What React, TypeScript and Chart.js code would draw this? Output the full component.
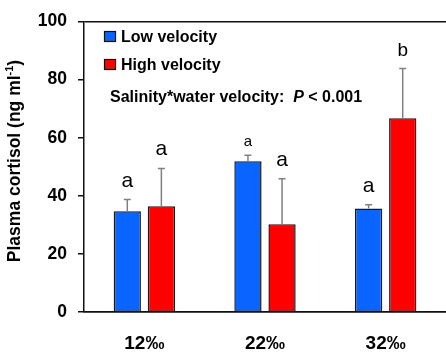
import React, { useEffect, useRef } from "react";
import { Chart, registerables } from "chart.js";

Chart.register(...registerables);

const categories = ["12‰", "22‰", "32‰"];
const seriesNames = ["Low velocity", "High velocity"];
const lowVelocity = [34.7, 51.9, 35.6];
const highVelocity = [36.4, 30.2, 66.7];
const lowError = [4.0, 2.1, 1.3];
const highError = [13.0, 15.7, 17.1];
const lowLetters = ["a", "a", "a"];
const highLetters = ["a", "a", "b"];
const yTicks = [0, 20, 40, 60, 80, 100];
const annotationText = "Salinity*water velocity:";
const pText = "P";
const pRest = " < 0.001";

const FONT = "'Liberation Sans', Arial, Helvetica, sans-serif";
const BLUE = "#0A64FF";
const RED = "#FF0000";

const errorAndLetters = {
  id: "errorAndLetters",
  afterDatasetsDraw(chart: any) {
    const ctx = chart.ctx;
    const y = chart.scales.y;
    const errs = [lowError, highError];
    const letters = [lowLetters, highLetters];
    chart.data.datasets.forEach((ds: any, di: number) => {
      const meta = chart.getDatasetMeta(di);
      meta.data.forEach((bar: any, i: number) => {
        const v = ds.data[i];
        const top = y.getPixelForValue(v);
        const eTop = y.getPixelForValue(v + errs[di][i]);
        ctx.save();
        ctx.strokeStyle = "#808080";
        ctx.lineWidth = 1.5;
        ctx.beginPath();
        ctx.moveTo(bar.x, top);
        ctx.lineTo(bar.x, eTop);
        ctx.moveTo(bar.x - 3.5, eTop);
        ctx.lineTo(bar.x + 3.5, eTop);
        ctx.stroke();
        const small = di === 0 && i === 1;
        const letter = letters[di][i];
        const size = small ? 15 : letter === "b" ? 19 : 21;
        ctx.fillStyle = "#000";
        ctx.font = `${size}px ${FONT}`;
        ctx.textAlign = "center";
        ctx.textBaseline = "alphabetic";
        ctx.fillText(letter, bar.x, eTop - (small ? 9 : 13));
        ctx.restore();
      });
    });
  },
};

const overlayText = {
  id: "overlayText",
  afterDraw(chart: any) {
    const ctx = chart.ctx;
    ctx.save();
    // legend
    const colors = [BLUE, RED];
    const rows = [36, 64];
    seriesNames.forEach((name, i) => {
      ctx.fillStyle = colors[i];
      ctx.fillRect(104.5, rows[i] - 4.5, 11, 10);
      ctx.strokeStyle = "#111";
      ctx.lineWidth = 1.2;
      ctx.strokeRect(104.5, rows[i] - 4.5, 11, 10);
      ctx.fillStyle = "#000";
      ctx.font = `bold 16px ${FONT}`;
      ctx.textAlign = "left";
      ctx.textBaseline = "alphabetic";
      ctx.fillText(name, 121, rows[i] + 6);
    });
    // annotation
    ctx.font = `bold 16px ${FONT}`;
    let x = 110;
    const by = 102;
    ctx.fillText(annotationText + "  ", x, by);
    x += ctx.measureText(annotationText + "  ").width;
    ctx.font = `italic bold 16px ${FONT}`;
    ctx.fillText(pText, x, by);
    x += ctx.measureText(pText).width;
    ctx.font = `bold 16px ${FONT}`;
    ctx.fillText(pRest, x, by);
    // y axis title
    ctx.translate(20, 161);
    ctx.rotate(-Math.PI / 2);
    const main = "Plasma cortisol (ng ml";
    const sup = "-1";
    const end = ")";
    ctx.font = `bold 17.5px ${FONT}`;
    const w1 = ctx.measureText(main).width;
    const w3 = ctx.measureText(end).width;
    ctx.font = `bold 11px ${FONT}`;
    const w2 = ctx.measureText(sup).width;
    const total = w1 + w2 + w3;
    let tx = -total / 2;
    ctx.font = `bold 17.5px ${FONT}`;
    ctx.fillText(main, tx, 0);
    tx += w1;
    ctx.font = `bold 11px ${FONT}`;
    ctx.fillText(sup, tx, -7);
    tx += w2;
    ctx.font = `bold 17.5px ${FONT}`;
    ctx.fillText(end, tx, 0);
    ctx.restore();
  },
};

export default function App() {
  const ref = useRef<HTMLCanvasElement | null>(null);
  useEffect(() => {
    if (!ref.current) return;
    const chart = new Chart(ref.current, {
      type: "bar",
      data: {
        labels: categories,
        datasets: [
          {
            label: seriesNames[0],
            data: lowVelocity,
            backgroundColor: BLUE,
            borderColor: "#1a1a1a",
            borderWidth: 1.5,
            categoryPercentage: 0.565,
            barPercentage: 0.8,
          },
          {
            label: seriesNames[1],
            data: highVelocity,
            backgroundColor: RED,
            borderColor: "#1a1a1a",
            borderWidth: 1.5,
            categoryPercentage: 0.565,
            barPercentage: 0.8,
          },
        ],
      },
      options: {
        animation: false,
        responsive: false,
        maintainAspectRatio: false,
        layout: { padding: { top: 16, left: 0, right: 0, bottom: 0 } },
        plugins: {
          legend: { display: false },
          tooltip: { enabled: false },
          title: { display: false },
        },
        scales: {
          x: {
            type: "category",
            grid: { display: false, drawTicks: false },
            border: { display: true, color: "#111", width: 1.5 },
            ticks: {
              color: "#000",
              font: { family: FONT, size: 19, weight: "bold" },
              padding: 20,
            },
            afterFit(scale: any) {
              scale.height = 43;
            },
          },
          y: {
            min: 0,
            max: 100,
            afterBuildTicks(scale: any) {
              scale.ticks = yTicks.map((v) => ({ value: v }));
            },
            grid: {
              tickLength: 6,
              lineWidth: 1.5,
              color: (c: any) =>
                c.tick && (c.tick.value === 0 || c.tick.value === 100) ? "#111" : "rgba(0,0,0,0)",
              tickColor: "#111",
              tickWidth: 1.5,
            },
            border: { display: true, color: "#111", width: 1.5 },
            ticks: {
              color: "#000",
              font: { family: FONT, size: 17.5, weight: "bold" },
              padding: 11,
            },
            afterFit(scale: any) {
              scale.width = 84;
            },
          },
        },
      },
      plugins: [errorAndLetters, overlayText],
    });
    return () => chart.destroy();
  }, []);
  return (
    <div style={{ position: "fixed", left: 0, top: 0, width: 446, height: 355, background: "#fff" }}>
      <canvas ref={ref} width={446} height={355} style={{ width: 446, height: 355 }} />
    </div>
  );
}
